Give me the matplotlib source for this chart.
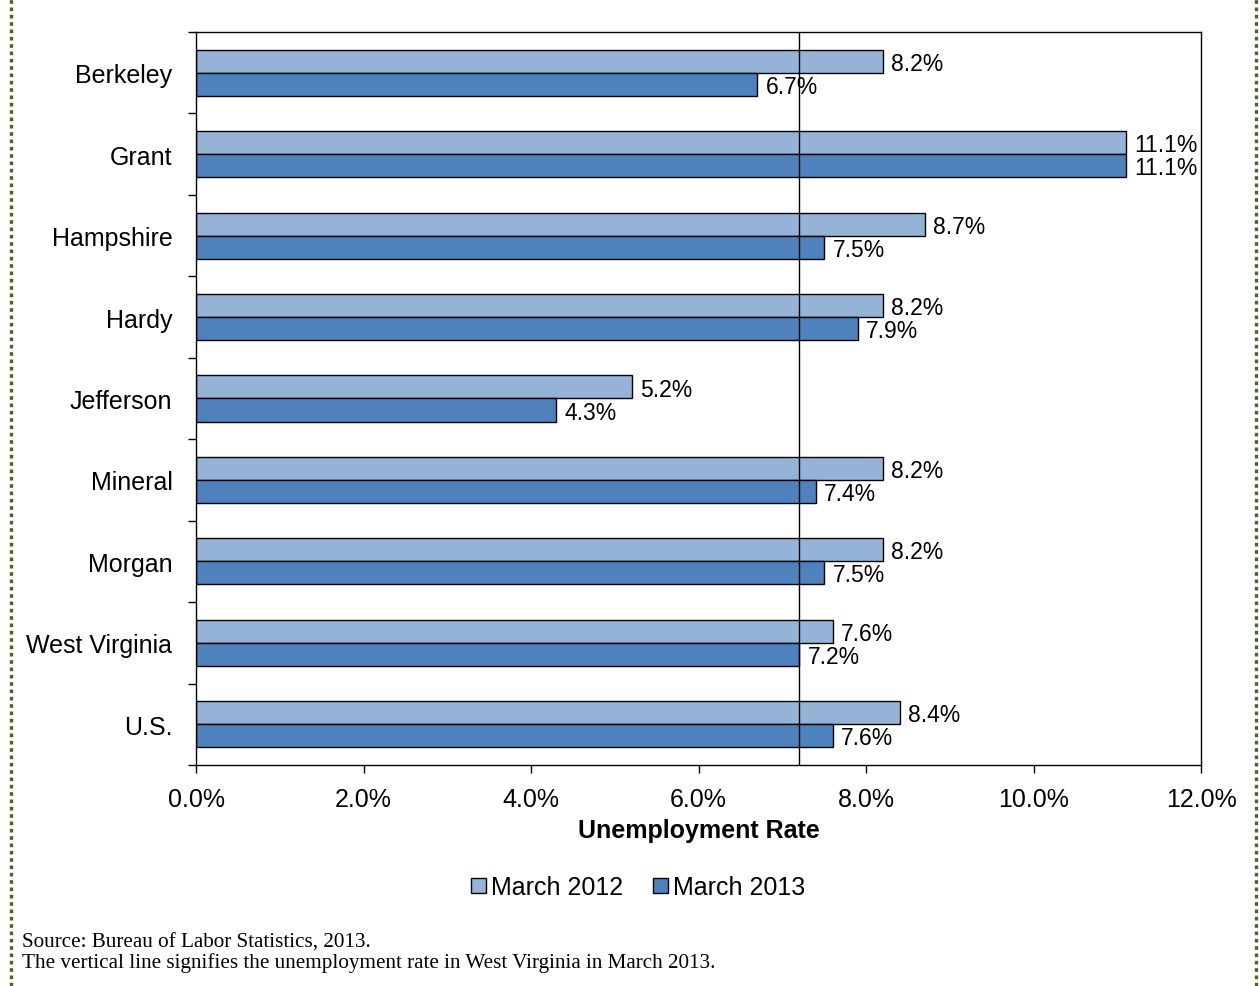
"""
Unemployment rates by county, March 2012 vs March 2013
"""

import matplotlib

matplotlib.use("Agg")
import matplotlib.pyplot as plt
from matplotlib.lines import Line2D
from matplotlib.patches import Patch
from matplotlib.ticker import FixedLocator, FuncFormatter

plt.rcParams["font.family"] = ["Liberation Sans", "DejaVu Sans"]

counties = [
    "Berkeley", "Grant", "Hampshire", "Hardy", "Jefferson",
    "Mineral", "Morgan", "West Virginia", "U.S.",
]
rate_2012 = [8.2, 11.1, 8.7, 8.2, 5.2, 8.2, 8.2, 7.6, 8.4]
rate_2013 = [6.7, 11.1, 7.5, 7.9, 4.3, 7.4, 7.5, 7.2, 7.6]
series_names = ["March 2012", "March 2013"]
wv_2013 = rate_2013[counties.index("West Virginia")]

LIGHT = "#95B3D7"
DARK = "#4F81BD"
BORDER = "#4F6228"
SERIF = ["Liberation Serif", "DejaVu Serif"]

fig = plt.figure(figsize=(12.59, 9.87), dpi=100)
ax = fig.add_axes([0.1557, 0.2239, 0.7983, 0.7427])

bar_h = 0.283
pos = list(range(len(counties)))
ax.barh([p - bar_h / 2 for p in pos], rate_2012, height=bar_h,
        color=LIGHT, edgecolor="black", linewidth=1.0, zorder=2)
ax.barh([p + bar_h / 2 for p in pos], rate_2013, height=bar_h,
        color=DARK, edgecolor="black", linewidth=1.0, zorder=2)

for p, a, b in zip(pos, rate_2012, rate_2013):
    ax.annotate(f"{a:.1f}%", (a, p - bar_h / 2), xytext=(6, -1.5),
                textcoords="offset points", va="center", ha="left", fontsize=16.5)
    ax.annotate(f"{b:.1f}%", (b, p + bar_h / 2), xytext=(6, -1.5),
                textcoords="offset points", va="center", ha="left", fontsize=16.5)

# reference line at the state rate
ax.axvline(wv_2013, color="black", linewidth=1.0, zorder=3)

ax.set_xlim(0, 12)
ax.set_ylim(len(counties) - 0.5, -0.5)
ax.set_xticks(range(0, 13, 2))
ax.xaxis.set_major_formatter(FuncFormatter(lambda v, _: f"{v:.1f}%"))
ax.set_yticks(pos)
ax.set_yticklabels(counties)
ax.yaxis.set_minor_locator(FixedLocator([p - 0.5 for p in range(len(counties) + 1)]))
ax.tick_params(axis="y", which="major", length=0, pad=17, labelsize=18)
ax.tick_params(axis="y", which="minor", length=6, width=1.0)
ax.tick_params(axis="x", which="major", length=6, width=1.0, pad=10, labelsize=18)
ax.set_xlabel("Unemployment Rate", fontsize=18, fontweight="bold", labelpad=5)
for spine in ax.spines.values():
    spine.set_linewidth(1.0)

handles = [Patch(facecolor=LIGHT, edgecolor="black"),
           Patch(facecolor=DARK, edgecolor="black")]
fig.legend(handles, series_names, loc="center", bbox_to_anchor=(0.507, 0.1),
           ncol=2, frameon=False, fontsize=18, handlelength=0.6, handleheight=0.6,
           handletextpad=0.2, columnspacing=1.2)

fig.text(0.0175, 0.0445, "Source: Bureau of Labor Statistics, 2013.",
         family=SERIF, fontsize=15.2, va="center")
fig.text(0.0175, 0.0245,
         "The vertical line signifies the unemployment rate in West Virginia in March 2013.",
         family=SERIF, fontsize=15.2, va="center")

# dotted page border on both sides
for x in (0.0085, 0.998):
    fig.add_artist(Line2D([x, x], [0, 1], transform=fig.transFigure, color=BORDER,
                          linewidth=2.4, linestyle=(0, (1.1, 1.1))))

fig.savefig("out.png", dpi=100)
